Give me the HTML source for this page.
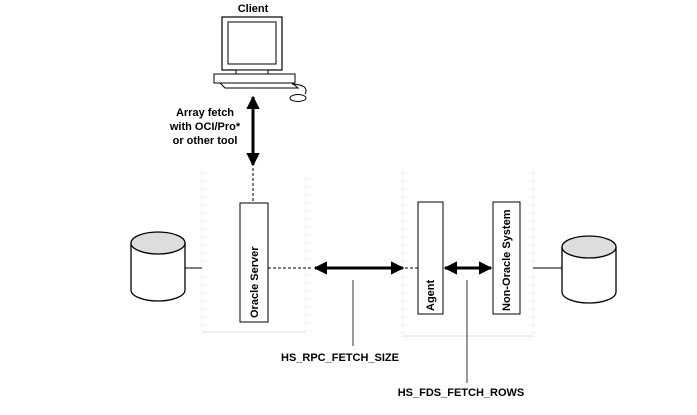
<!DOCTYPE html>
<html><head><style>body{margin:0;background:#fff}svg text{font-family:"Liberation Sans",Arial,sans-serif;font-weight:bold;font-size:11px;fill:#000}</style></head><body>
<svg width="697" height="410" viewBox="0 0 697 410" xmlns="http://www.w3.org/2000/svg">
<defs>
<marker id="a" viewBox="0 0 10 10" refX="9" refY="5" markerWidth="4.5" markerHeight="4.5" orient="auto-start-reverse"><path d="M0,0 L10,5 L0,10 z" fill="#000"/></marker>
</defs>
<text x="253" y="12" text-anchor="middle">Client</text>
<rect x="222" y="17" width="60" height="53" fill="#fff" stroke="#000" stroke-width="1.2"/>
<rect x="228" y="22" width="48" height="42" fill="#fff" stroke="#000"/>
<rect x="236" y="70" width="32" height="4" fill="#fff" stroke="#000"/>
<rect x="214" y="74" width="81" height="9" fill="#fff" stroke="#000"/>
<path d="M220 83 L292 83 L298 88 L225 88 Z" fill="#fff" stroke="#000"/>
<path d="M292 84 Q310 85 305 94" fill="none" stroke="#000"/>
<ellipse cx="298" cy="98" rx="8" ry="3.5" fill="#fff" stroke="#000"/>
<text x="205" y="116" text-anchor="middle">Array fetch</text>
<text x="205" y="130" text-anchor="middle">with OCI/Pro*</text>
<text x="205" y="144" text-anchor="middle">or other tool</text>
<line x1="253" y1="97" x2="253" y2="165" stroke="#000" stroke-width="3" marker-start="url(#a)" marker-end="url(#a)"/>
<line x1="253" y1="168" x2="253" y2="203" stroke="#000" stroke-dasharray="3,2"/>
<path d="M202 172 L202 332 L306 332 L306 172" fill="none" stroke="#ddd" stroke-dasharray="2,6"/>
<line x1="202" y1="332" x2="306" y2="332" stroke="#ddd"/>
<path d="M403 172 L403 336 L533 336 L533 172" fill="none" stroke="#ddd" stroke-dasharray="2,6"/>
<line x1="403" y1="336" x2="533" y2="336" stroke="#ddd"/>
<rect x="240" y="203" width="28" height="119" fill="#fff" stroke="#000"/>
<text transform="translate(258,318) rotate(-90)">Oracle Server</text>
<rect x="418" y="202" width="25" height="112" fill="#fff" stroke="#000"/>
<text transform="translate(434,311) rotate(-90)">Agent</text>
<rect x="493" y="202" width="27" height="112" fill="#fff" stroke="#000"/>
<text transform="translate(510,311) rotate(-90)">Non-Oracle System</text>
<path d="M131 243 L131 290 A27 11 0 0 0 185 290 L185 243" fill="#fff" stroke="#000" stroke-width="1.3"/>
<ellipse cx="158" cy="243" rx="27" ry="11" fill="#ddd" stroke="#000" stroke-width="1.3"/>
<path d="M562 247 L562 292 A27 11 0 0 0 616 292 L616 247" fill="#fff" stroke="#000" stroke-width="1.3"/>
<ellipse cx="589" cy="247" rx="27" ry="11" fill="#ddd" stroke="#000" stroke-width="1.3"/>
<line x1="185" y1="268" x2="202" y2="268" stroke="#000"/>
<line x1="533" y1="268" x2="562" y2="268" stroke="#000"/>
<line x1="268" y1="268" x2="313" y2="268" stroke="#000" stroke-dasharray="3,2"/>
<line x1="315" y1="268" x2="403" y2="268" stroke="#000" stroke-width="3" marker-start="url(#a)" marker-end="url(#a)"/>
<line x1="405" y1="268" x2="418" y2="268" stroke="#000" stroke-dasharray="3,2"/>
<line x1="445" y1="268" x2="491" y2="268" stroke="#000" stroke-width="3" marker-start="url(#a)" marker-end="url(#a)"/>
<line x1="353" y1="280" x2="353" y2="346" stroke="#000" stroke-width="0.8"/>
<line x1="467" y1="280" x2="467" y2="383" stroke="#000" stroke-width="0.8"/>
<text x="340" y="361" text-anchor="middle">HS_RPC_FETCH_SIZE</text>
<text x="461" y="396" text-anchor="middle">HS_FDS_FETCH_ROWS</text>
</svg>
</body></html>
